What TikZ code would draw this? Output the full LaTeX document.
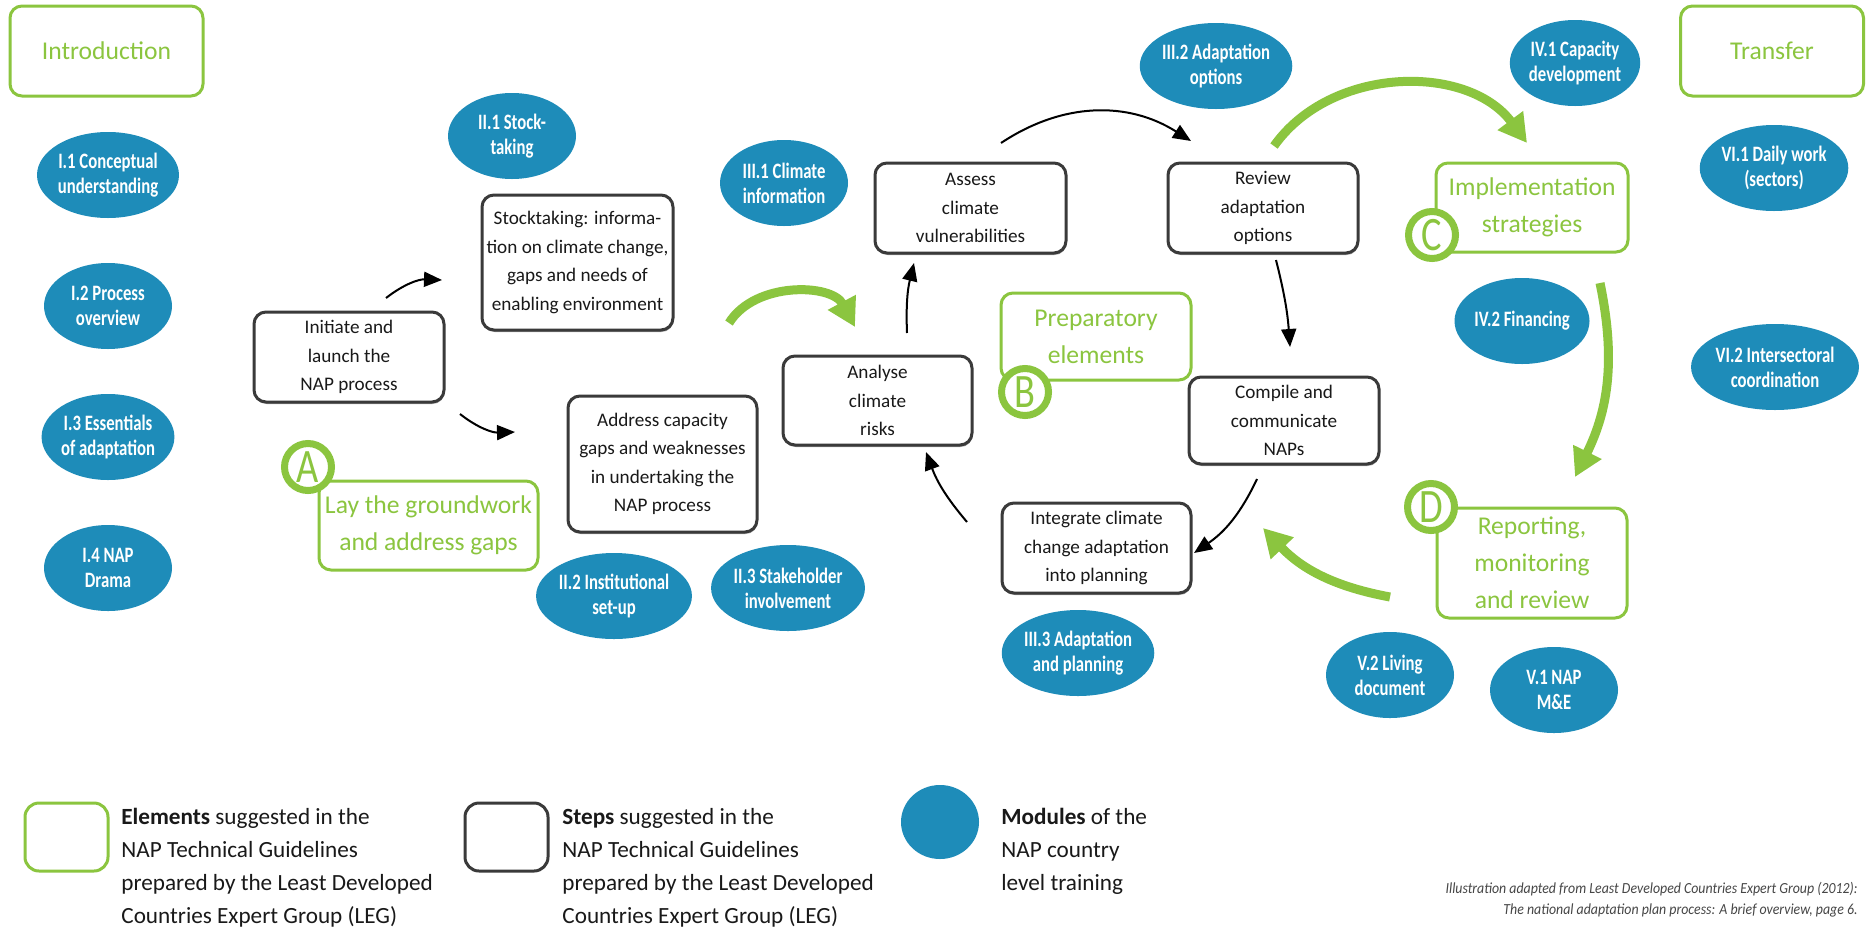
\documentclass[tikz,border=0pt]{standalone}
\usepackage{fontspec}
\setmainfont{Carlito}
\newfontfamily\modfont{Carlito}[FakeStretch=0.76]
\newfontfamily\citefont{Carlito}[FakeStretch=0.9]
\newfontfamily\letterfont{Carlito}[FakeStretch=0.8]
\usetikzlibrary{arrows.meta,shapes.geometric,shadows}
\definecolor{napgreen}{RGB}{139,197,63}
\definecolor{napblue}{RGB}{30,140,185}
\definecolor{stepgray}{RGB}{58,58,58}
\definecolor{citegray}{RGB}{70,70,70}
\tikzset{
 stepbox/.style={draw=stepgray, line width=1.5pt, rounded corners=6pt, align=center, inner sep=0pt,
   fill=white, drop shadow={shadow xshift=0.3pt, shadow yshift=-1pt, opacity=0.35, fill=black},
   font=\fontsize{9.6}{14.25}\selectfont, text=black!90},
 elembox/.style={draw=napgreen, line width=1.5pt, rounded corners=6pt, align=center, inner sep=0pt,
   text=napgreen, font=\fontsize{12.8}{18.5}\selectfont},
 module/.style={ellipse, fill=napblue, minimum width=64pt, minimum height=43pt, inner sep=0pt,
   align=center, text=white, font=\modfont\bfseries\fontsize{11}{12.5}\selectfont},
 letter/.style={circle, draw=napgreen, fill=white, line width=3.5pt, minimum size=23.5pt, inner sep=0pt,
   text=napgreen, font=\letterfont\fontsize{24}{24}\selectfont},
 garrow/.style={draw=napgreen, line width=4.5pt, -{Triangle[length=14pt,width=15pt]}},
 barrow/.style={draw=black, line width=1pt, -{Triangle[length=9pt,width=7.5pt]}},
 legtext/.style={anchor=north west, align=left, inner sep=0pt, text=black!90,
   font=\fontsize{11.6}{16.5}\selectfont},
}
\begin{document}
\begin{tikzpicture}[x=0.5pt,y=-0.5pt]
\useasboundingbox (0,0) rectangle (1866,932);
\fill[white] (0,0) rectangle (1866,932);

% green element boxes
\node[elembox, minimum width=96.5pt, minimum height=45pt] (intro) at (106.5,51) {Introduction};
\node[elembox, minimum width=91.5pt, minimum height=45pt] (transfer) at (1772,51) {Transfer};
\node[elembox, minimum width=109.5pt, minimum height=44.5pt] (lay) at (428.5,525.5) {Lay the groundwork\\and address gaps};
\node[elembox, minimum width=95pt, minimum height=43.5pt] (prep) at (1096,336.5) {Preparatory\\elements};
\node[elembox, minimum width=96pt, minimum height=44.5pt] (impl) at (1532,207.5) {Implementation\\strategies};
\node[elembox, minimum width=95pt, minimum height=55pt] (report) at (1532,563) {Reporting,\\monitoring\\and review};

% letters
\node[letter] (la) at (308,467) {A};
\node[letter] (lb) at (1025,392) {B};
\node[letter] (lc) at (1432,235) {C};
\node[letter] (ld) at (1431,507) {D};

% step boxes
\node[stepbox, minimum width=95pt, minimum height=45pt] (init) at (349,357) {Initiate and\\launch the\\NAP process};
\node[stepbox, minimum width=95.5pt, minimum height=67.5pt] (stock) at (577.5,262.5) {Stocktaking: informa-\\tion on climate change,\\gaps and needs of\\enabling environment};
\node[stepbox, minimum width=94.5pt, minimum height=68pt] (address) at (662.5,464) {Address capacity\\gaps and weaknesses\\in undertaking the\\NAP process};
\node[stepbox, minimum width=94.5pt, minimum height=44.5pt] (analyse) at (877.5,400.5) {Analyse\\climate\\risks};
\node[stepbox, minimum width=95.5pt, minimum height=45pt] (assess) at (970.5,208) {Assess\\climate\\vulnerabilities};
\node[stepbox, minimum width=95pt, minimum height=45pt] (review) at (1263,208) {Review\\adaptation\\options};
\node[stepbox, minimum width=95pt, minimum height=43.5pt] (compile) at (1284,420.5) {Compile and\\communicate\\NAPs};
\node[stepbox, minimum width=94.5pt, minimum height=45pt] (integrate) at (1096.5,548) {Integrate climate\\change adaptation\\into planning};

% modules
\node[module] (m11) at (108,175) {I.1 Conceptual\\understanding};
\node[module] (m12) at (108,306) {I.2 Process\\overview};
\node[module] (m13) at (108,437) {I.3 Essentials\\of adaptation};
\node[module] (m14) at (108,568) {I.4 NAP\\Drama};
\node[module] (m21) at (512,136) {II.1 Stock-\\taking};
\node[module] (m22) at (614,596) {II.2 Institutional\\set-up};
\node[module] (m23) at (788,588) {II.3 Stakeholder\\involvement};
\node[module] (m31) at (784,183) {III.1 Climate\\information};
\node[module] (m32) at (1216,66) {III.2 Adaptation\\options};
\node[module] (m33) at (1078,653) {III.3 Adaptation\\and planning};
\node[module] (m41) at (1575,63) {IV.1 Capacity\\development};
\node[module] (m42) at (1522,321) {IV.2 Financing};
\node[module] (m52) at (1390,675) {V.2 Living\\document};
\node[module] (m51) at (1554,690) {V.1 NAP\\M\&E};
\node[module] (m61) at (1774,168) {VI.1 Daily work\\(sectors)};
\node[module] (m62) at (1775,367) {VI.2 Intersectoral\\coordination};

% arrow end points
\coordinate (a1s) at (386,298); \coordinate (a1e) at (442,280);
\coordinate (a2s) at (460,414); \coordinate (a2e) at (515,432);
\coordinate (a3s) at (907,333); \coordinate (a3e) at (914,263);
\coordinate (a4s) at (1001,143); \coordinate (a4e) at (1191,141);
\coordinate (a5s) at (1276,260); \coordinate (a5e) at (1290,347);
\coordinate (a6s) at (1257,479); \coordinate (a6e) at (1194,553);
\coordinate (a7s) at (967,522); \coordinate (a7e) at (926,452);
\coordinate (g1s) at (729,323); \coordinate (g1e) at (855,327);
\coordinate (g2s) at (1274,146); \coordinate (g2e) at (1527,143);
\coordinate (g3s) at (1600,283); \coordinate (g3e) at (1575,477);
\coordinate (g4s) at (1390,597); \coordinate (g4e) at (1263,528);

% black arrows
\draw[barrow] (a1s) to[bend left=20] (a1e);
\draw[barrow] (a2s) to[bend right=20] (a2e);
\draw[barrow] (a3s) to[bend left=8] (a3e);
\draw[barrow] (a4s) to[bend left=33] (a4e);
\draw[barrow] (a5s) to[bend left=5] (a5e);
\draw[barrow] (a6s) to[bend left=15] (a6e);
\draw[barrow] (a7s) to[bend left=10] (a7e);

% green arrows
\draw[garrow] (g1s) to[bend left=60] (g1e);
\draw[garrow] (g2s) to[bend left=54] (g2e);
\draw[garrow] (g3s) to[bend left=19] (g3e);
\draw[garrow] (g4s) to[bend left=18] (g4e);

% legend
\node[draw=napgreen, line width=1.5pt, rounded corners=7pt, minimum width=41.5pt, minimum height=34pt, inner sep=0pt] (lgreen) at (66.5,837) {};
\node[legtext] (lgreentext) at (121,808) {\textbf{Elements} suggested in the\\NAP Technical Guidelines\\prepared by the Least Developed\\Countries Expert Group (LEG)};
\node[draw=stepgray, line width=1.5pt, rounded corners=7pt, minimum width=41.5pt, minimum height=34pt, inner sep=0pt] (lblack) at (506.5,837) {};
\node[legtext] (lblacktext) at (562,808) {\textbf{Steps} suggested in the\\NAP Technical Guidelines\\prepared by the Least Developed\\Countries Expert Group (LEG)};
\node[ellipse, fill=napblue, minimum width=39pt, minimum height=37pt, inner sep=0pt] (lblue) at (940,822) {};
\node[legtext] (lbluetext) at (1001,808) {\textbf{Modules} of the\\NAP country\\level training};

% citation
\node[anchor=north east, align=right, inner sep=0pt, text=citegray,
  font=\citefont\itshape\fontsize{7.7}{10.5}\selectfont] (cite) at (1858,882)
  {Illustration adapted from Least Developed Countries Expert Group (2012):\\The national adaptation plan process: A brief overview, page 6.};
\end{tikzpicture}
\end{document}
